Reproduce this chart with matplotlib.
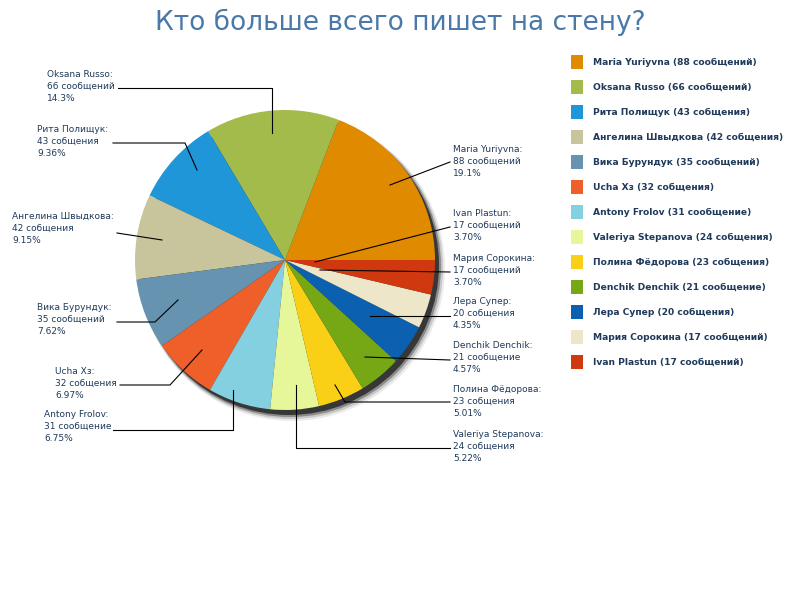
import matplotlib
matplotlib.use("Agg")
import matplotlib.pyplot as plt
from matplotlib.patches import Circle, Rectangle

names = ["Maria Yuriyvna", "Oksana Russo", "Рита Полищук", "Ангелина Швыдкова", "Вика Бурундук",
         "Ucha Xз", "Antony Frolov", "Valeriya Stepanova", "Полина Фёдорова", "Denchik Denchik",
         "Лера Супер", "Мария Сорокина", "Ivan Plastun"]
values = [88, 66, 43, 42, 35, 32, 31, 24, 23, 21, 20, 17, 17]
words = ["сообщений", "сообщений", "собщения", "собщения", "сообщений", "собщения", "сообщение",
         "собщения", "собщения", "сообщение", "собщения", "сообщений", "сообщений"]
pcts = ["19.1%", "14.3%", "9.36%", "9.15%", "7.62%", "6.97%", "6.75%", "5.22%", "5.01%",
        "4.57%", "4.35%", "3.70%", "3.70%"]
colors = ["#e08a00", "#a3bb4b", "#1e96d8", "#c8c49c", "#6593b0", "#ee5f2a", "#84cfe0",
          "#e6f79a", "#fad016", "#76a815", "#0b60b0", "#ede6c8", "#d0390f"]

TXT = "#1f3a5a"
fig = plt.figure(figsize=(8, 6), dpi=100)
ax = fig.add_axes([0, 0, 1, 1])

cx, cy, R = 285, 340, 150
for i, a in enumerate([0.08, 0.15, 0.3, 0.6]):
    ax.add_patch(Circle((cx + 7 - i, cy - 8 + i), R + 3 - i, color="black", alpha=a, lw=0, zorder=1))
wedges, _ = ax.pie(values, colors=colors, startangle=0, counterclock=True, center=(cx, cy),
                   radius=R, wedgeprops=dict(linewidth=0), frame=True)
for w in wedges:
    w.set_zorder(2)
ax.set_xlim(0, 800); ax.set_ylim(0, 600); ax.set_aspect("equal"); ax.axis("off")

layout = [
    (453, 145, [(450, 162), (390, 185)]),
    (47, 70, [(118, 88), (272, 88), (272, 133)]),
    (37, 125, [(113, 143), (185, 143), (197, 170)]),
    (12, 212, [(117, 233), (162, 240)]),
    (37, 303, [(117, 322), (155, 322), (178, 300)]),
    (55, 367, [(120, 385), (170, 385), (202, 350)]),
    (44, 410, [(113, 430), (233, 430), (233, 390)]),
    (453, 430, [(450, 448), (296, 448), (296, 385)]),
    (453, 385, [(450, 402), (345, 402), (335, 385)]),
    (453, 341, [(450, 360), (365, 357)]),
    (453, 297, [(450, 316), (370, 316)]),
    (453, 254, [(450, 272), (320, 270)]),
    (453, 209, [(450, 227), (315, 262)]),
]
for i, (tx, ty, pts) in enumerate(layout):
    ax.text(tx, 600 - ty, f"{names[i]}:\n{values[i]} {words[i]}\n{pcts[i]}", fontsize=6.5,
            color=TXT, va="top", ha="left", linespacing=1.45, zorder=5)
    ax.plot([p[0] for p in pts], [600 - p[1] for p in pts], color="black", lw=0.8, zorder=4)

for i in range(len(names)):
    y = 62 + 25 * i
    ax.add_patch(Rectangle((571, 600 - y - 7), 12, 14, color=colors[i], lw=0, zorder=5))
    ax.text(593, 600 - y, f"{names[i]} ({values[i]} {words[i]})", fontsize=6.6,
            fontweight="bold", color=TXT, va="center", ha="left")

ax.text(400, 578, "Кто больше всего пишет на стену?", fontsize=19, color="#4a78a8",
        ha="center", va="center")
fig.savefig("out.png", dpi=100)
